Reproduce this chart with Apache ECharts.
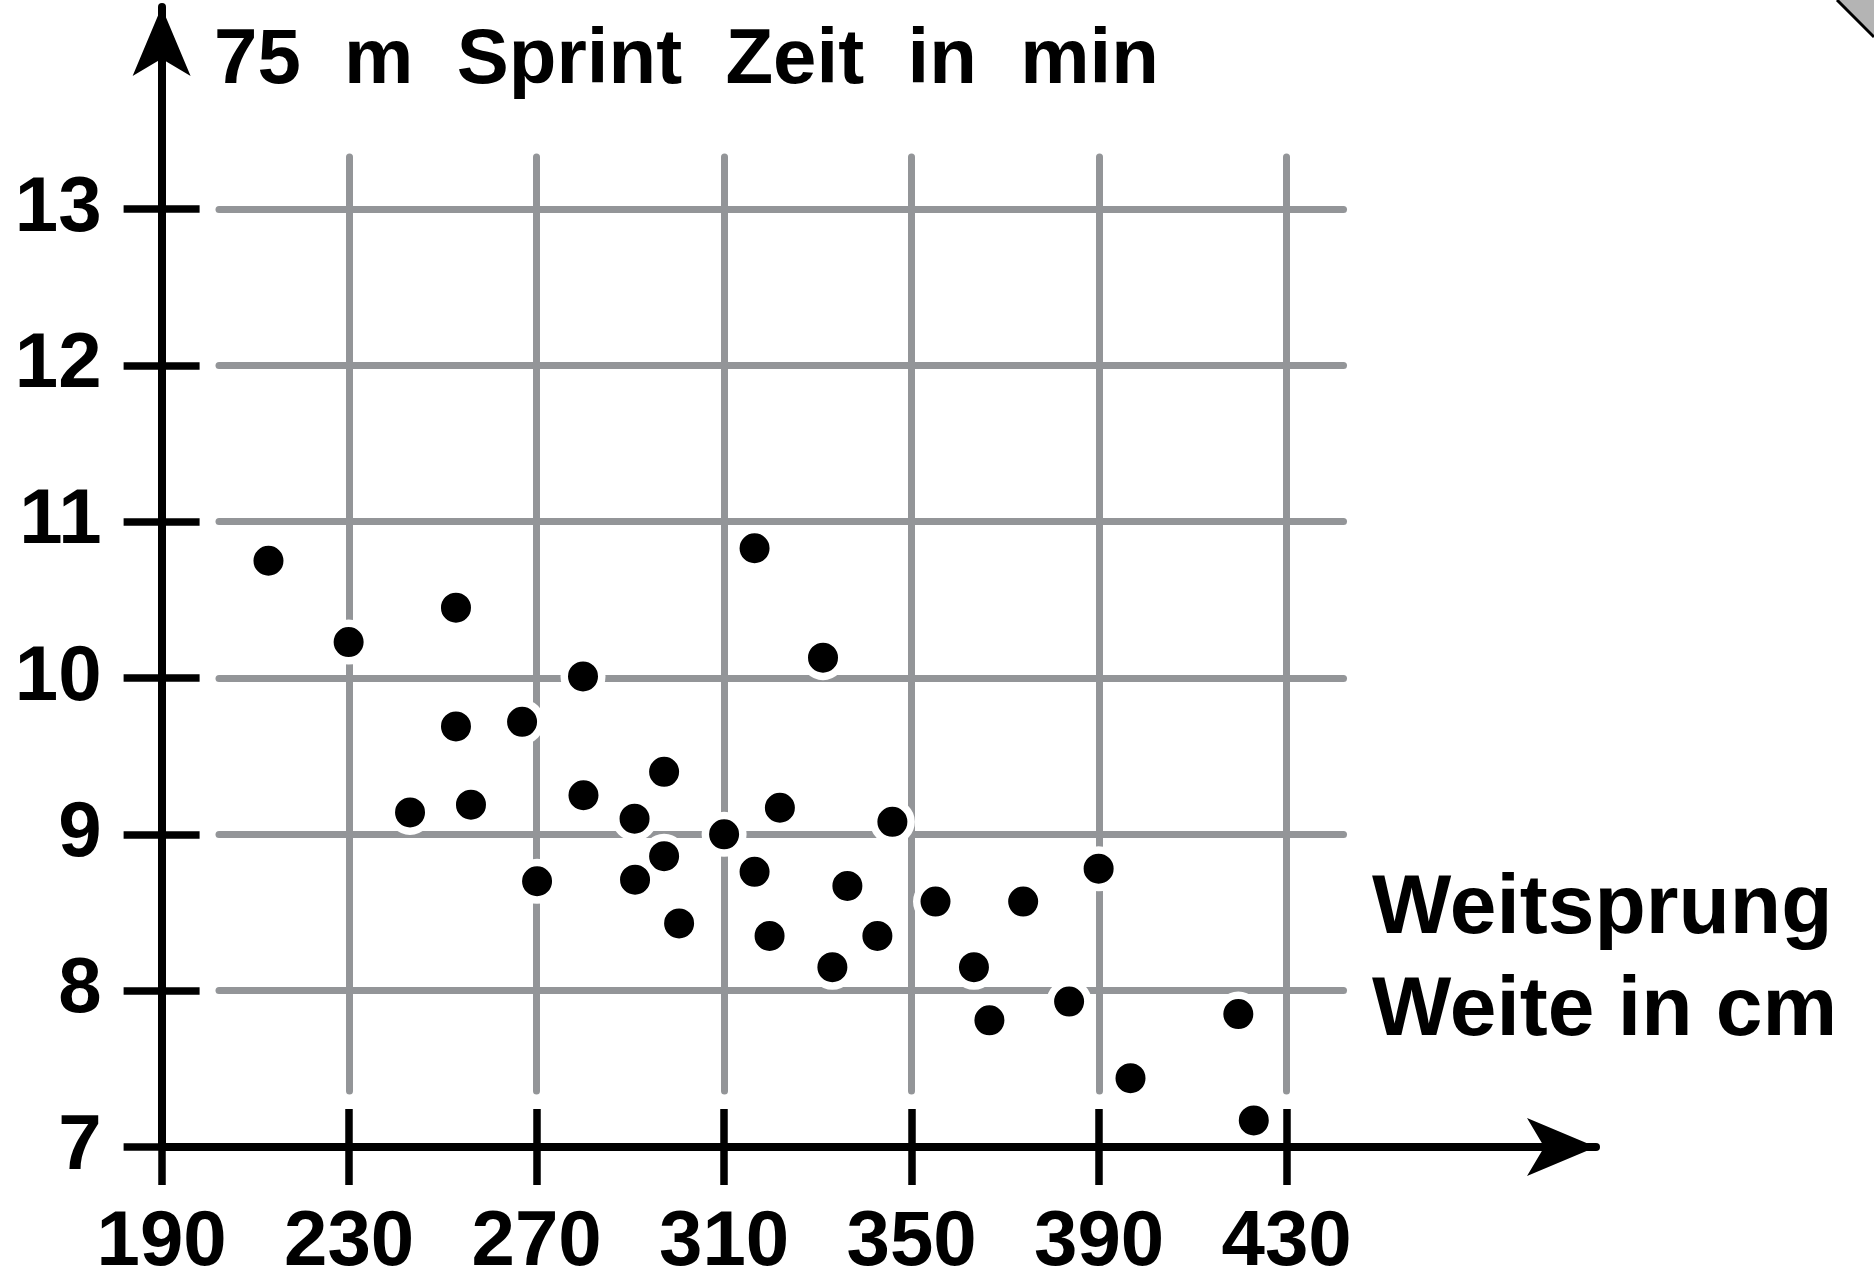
<!DOCTYPE html>
<html>
<head>
<meta charset="utf-8">
<script src="https://cdn.jsdelivr.net/npm/echarts@6/dist/echarts.min.js"></script>
<style>
  html, body { margin: 0; padding: 0; background: #fff; }
  #chart { width: 1874px; height: 1275px; }
</style>
</head>
<body>
<div id="chart"></div>
<script>
// Weitsprung (cm) und 75 m Sprint (min)
const weite = [
  212.8, 229.9, 252.8, 279.9, 316.5, 331.1, 252.8, 266.9, 297.2, 243.0,
  256.0, 280.0, 290.9, 310.0, 321.9, 345.9, 297.2, 270.1, 291.0, 316.5,
  336.3, 300.4, 319.7, 342.7, 355.1, 373.8, 389.9, 333.1, 363.3, 383.6,
  366.6, 419.7, 396.7, 423.0
];
const zeit = [
  10.75, 10.23, 10.45, 10.01, 10.83, 10.13, 9.69, 9.72, 9.40, 9.14,
  9.19, 9.25, 9.10, 9.00, 9.17, 9.08, 8.86, 8.70, 8.71, 8.76,
  8.67, 8.43, 8.35, 8.35, 8.57, 8.57, 8.78, 8.15, 8.15, 7.93,
  7.81, 7.85, 7.44, 7.17
];
const xTicks = [190, 230, 270, 310, 350, 390, 430];
const yTicks = [7, 8, 9, 10, 11, 12, 13];

const titleY = '75  m  Sprint  Zeit  in  min';
const titleX = 'Weitsprung\nWeite in cm';

const font = 'Liberation Sans';
const grey = '#939598';

// pixel frame of the plot
const X0 = 161.6, X1 = 1286.6, Y13 = 209, Y7 = 1147;

const xMin = xTicks[0], xMax = xTicks[xTicks.length - 1];
const yMin = yTicks[0], yMax = yTicks[yTicks.length - 1];
const xStep = xTicks[1] - xTicks[0], yStep = yTicks[1] - yTicks[0];

const tickStyle = { color: '#000', width: 7.5, cap: 'butt' };
const labelStyle = { color: '#000', fontFamily: font, fontWeight: 'bold', fontSize: 78 };
const gridLine = { color: grey, width: 7, cap: 'round' };

const chart = echarts.init(document.getElementById('chart'));

chart.setOption({
  animation: false,
  backgroundColor: '#fff',
  title: [
    {
      text: titleY, left: 214, top: 22, padding: 0,
      textStyle: { color: '#000', fontFamily: font, fontWeight: 'bold', fontSize: 78 }
    },
    {
      text: titleX, left: 1372, top: 859, padding: 0,
      textStyle: { color: '#000', fontFamily: font, fontWeight: 'bold', fontSize: 84, lineHeight: 102 }
    }
  ],
  grid: [
    // data + ticks
    { left: X0, top: Y13, width: X1 - X0, height: Y7 - Y13, containLabel: false, outerBoundsMode: 'none' },
    // vertical grid lines
    { left: X0, top: 157, width: X1 - X0, height: 1091 - 157, containLabel: false, outerBoundsMode: 'none' },
    // horizontal grid lines
    { left: 219, top: Y13, width: 1343.5 - 219, height: Y7 - Y13, containLabel: false, outerBoundsMode: 'none' },
    // axis lines with arrows
    { left: X0, top: 7, width: 1596 - X0, height: Y7 - 7, containLabel: false, outerBoundsMode: 'none' }
  ],
  xAxis: [
    {
      gridIndex: 0, type: 'value', position: 'bottom', min: xMin, max: xMax, interval: xStep,
      axisLine: { show: false },
      axisTick: { show: true, length: 38, lineStyle: tickStyle },
      axisLabel: Object.assign({ margin: 57 }, labelStyle),
      splitLine: { show: false }, z: 4
    },
    {
      gridIndex: 0, type: 'value', position: 'bottom', min: xMin, max: xMax, interval: xStep,
      axisLine: { show: false },
      axisTick: { show: true, inside: true, length: 38, lineStyle: tickStyle },
      axisLabel: { show: false },
      splitLine: { show: false }, z: 4
    },
    {
      gridIndex: 1, type: 'value', position: 'bottom', min: xMin, max: xMax, interval: xStep,
      axisLine: { show: false }, axisTick: { show: false }, axisLabel: { show: false },
      splitLine: { show: true, lineStyle: gridLine }, z: 0
    },
    {
      gridIndex: 2, type: 'value', position: 'bottom', min: 0, max: 1, show: false
    },
    {
      gridIndex: 3, type: 'value', position: 'bottom', min: 0, max: 1,
      axisLine: {
        show: true, onZero: false, symbol: ['none', 'arrow'], symbolSize: [43.5, 69],
        lineStyle: { color: '#000', width: 8 }
      },
      axisTick: { show: false }, axisLabel: { show: false }, splitLine: { show: false }, z: 3
    }
  ],
  yAxis: [
    {
      gridIndex: 0, type: 'value', position: 'left', min: yMin, max: yMax, interval: yStep,
      axisLine: { show: false },
      axisTick: { show: true, length: 38, lineStyle: tickStyle },
      axisLabel: Object.assign({ margin: 60 }, labelStyle),
      splitLine: { show: false }, z: 4
    },
    {
      gridIndex: 0, type: 'value', position: 'left', min: yMin, max: yMax, interval: yStep,
      axisLine: { show: false },
      axisTick: { show: true, inside: true, length: 38, lineStyle: tickStyle },
      axisLabel: { show: false },
      splitLine: { show: false }, z: 4
    },
    {
      gridIndex: 1, type: 'value', position: 'left', min: 0, max: 1, show: false
    },
    {
      gridIndex: 2, type: 'value', position: 'left', min: yMin, max: yMax, interval: yStep,
      axisLine: { show: false }, axisTick: { show: false }, axisLabel: { show: false },
      splitLine: { show: true, lineStyle: gridLine }, z: 0
    },
    {
      gridIndex: 3, type: 'value', position: 'left', min: 0, max: 1,
      axisLine: {
        show: true, onZero: false, symbol: ['none', 'arrow'], symbolSize: [43.5, 69],
        lineStyle: { color: '#000', width: 8 }
      },
      axisTick: { show: false }, axisLabel: { show: false }, splitLine: { show: false }, z: 3
    }
  ],
  series: [
    {
      type: 'scatter',
      xAxisIndex: 0,
      yAxisIndex: 0,
      data: weite.map((w, i) => [w, zeit[i]]),
      symbol: 'circle',
      symbolSize: 37.5,
      itemStyle: { color: '#000', borderColor: '#fff', borderWidth: 7.5, opacity: 1 },
      emphasis: { disabled: true },
      silent: true,
      clip: false,
      z: 5
    }
  ],
  graphic: [
    {
      type: 'polygon', silent: true,
      shape: { points: [[1837, 0], [1874, 0], [1874, 37]] },
      style: { fill: '#b4b4b4' }
    },
    {
      type: 'line', silent: true,
      shape: { x1: 1837, y1: 0, x2: 1874, y2: 37 },
      style: { stroke: '#000', lineWidth: 3 }
    }
  ]
});
</script>
</body>
</html>
